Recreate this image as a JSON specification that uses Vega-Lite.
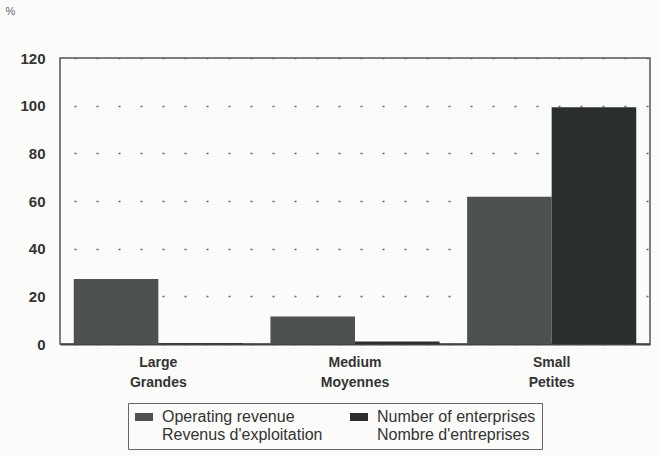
{
  "$schema": "https://vega.github.io/schema/vega-lite/v6.json",
  "width": 590,
  "height": 286,
  "autosize": {"type": "none"},
  "padding": {"left": 60, "top": 58, "right": 9, "bottom": 113},
  "background": "#fbfbfa",
  "config": {
    "font": "Liberation Sans",
    "view": {"stroke": "#555555", "strokeWidth": 1.5}
  },
  "data": {
    "values": [
      {"size": "Large|Grandes", "series": "Operating revenue|Revenus d'exploitation", "value": 27.3},
      {"size": "Large|Grandes", "series": "Number of enterprises|Nombre d'entreprises", "value": 0.3},
      {"size": "Medium|Moyennes", "series": "Operating revenue|Revenus d'exploitation", "value": 11.5},
      {"size": "Medium|Moyennes", "series": "Number of enterprises|Nombre d'entreprises", "value": 1.0},
      {"size": "Small|Petites", "series": "Operating revenue|Revenus d'exploitation", "value": 61.8},
      {"size": "Small|Petites", "series": "Number of enterprises|Nombre d'entreprises", "value": 99.3}
    ]
  },
  "mark": {"type": "bar"},
  "encoding": {
    "x": {
      "field": "size",
      "type": "nominal",
      "sort": null,
      "scale": {"paddingInner": 0.14, "paddingOuter": 0.07},
      "axis": {
        "title": null,
        "labelAngle": 0,
        "labelExpr": "split(datum.label, '|')",
        "labelFont": "Liberation Sans",
        "labelFontWeight": "bold",
        "labelFontSize": 14,
        "labelColor": "#333333",
        "labelPadding": 11,
        "labelLineHeight": 20,
        "ticks": false,
        "domain": true,
        "domainColor": "#444444",
        "domainWidth": 2
      }
    },
    "xOffset": {"field": "series", "type": "nominal", "sort": null, "scale": {"paddingInner": 0}},
    "y": {
      "field": "value",
      "type": "quantitative",
      "scale": {"domain": [0, 120], "nice": false},
      "axis": {
        "values": [0, 20, 40, 60, 80, 100, 120],
        "title": "%",
        "titleAngle": 0,
        "titleX": -50,
        "titleY": -42,
        "titleFontSize": 11,
        "titleFontWeight": "normal",
        "titleColor": "#666666",
        "labelFont": "Liberation Sans",
        "labelFontWeight": "bold",
        "labelFontSize": 15,
        "labelColor": "#333333",
        "labelPadding": 15,
        "ticks": false,
        "domain": false,
        "grid": true,
        "gridDash": [2, 20],
        "gridDashOffset": -14,
        "gridColor": "#666666",
        "gridWidth": 1.5
      }
    },
    "color": {
      "field": "series",
      "type": "nominal",
      "sort": null,
      "scale": {"range": ["#4d524f", "#2a2f2c"]},
      "legend": {
        "title": null,
        "orient": "none",
        "legendX": 68,
        "legendY": 345,
        "direction": "horizontal",
        "columns": 2,
        "columnPadding": 26,
        "symbolType": "M-1.75,-1H2.75V1H-1.75Z",
        "symbolSize": 64,
        "symbolStrokeWidth": 0,
        "labelExpr": "split(datum.label, '|')",
        "labelFont": "Liberation Sans",
        "labelFontSize": 16,
        "labelLineHeight": 16,
        "labelColor": "#333333",
        "labelLimit": 300,
        "labelBaseline": "middle",
        "labelOffset": 12,
        "strokeColor": "#666666",
        "padding": 6,
        "fillColor": "#fbfbfa"
      }
    }
  }
}
